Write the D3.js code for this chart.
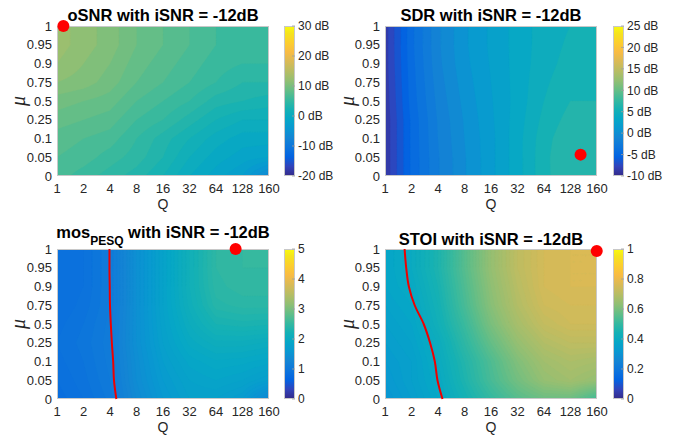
<!DOCTYPE html>
<html><head><meta charset="utf-8">
<script src="https://cdn.jsdelivr.net/npm/d3@7"></script>
<style>
body{margin:0;background:#fff}
svg{display:block}
text{font-family:"Liberation Sans",Arial,Helvetica,sans-serif;fill:#262626}
</style>
</head><body>
<svg id="c" width="682" height="435"></svg>
<script>
// ---- data ----
const qLabels = ["1","2","4","8","16","32","64","128","160"];
const muLabels = ["0","0.05","0.1","0.25","0.5","0.75","0.9","0.95","1"];

// rows: mu = 1 (top) ... mu = 0 (bottom); columns: Q = 1 ... 160
const osnrValues = [
 [12.5, 11.5, 10.5, 9, 8, 7, 6, 6, 6],
 [12.5, 11.5, 10.5, 9, 8, 7, 6, 5.5, 5.5],
 [12, 11, 10, 8.5, 7.5, 6.5, 5.5, 5, 5],
 [11, 10.5, 9.5, 8, 7, 6, 5, 4, 4],
 [9.5, 9, 8.5, 7, 6, 5, 3.5, 3, 2.5],
 [8.5, 8, 7.5, 6, 5, 3.5, 2, 1, 1],
 [7.5, 7, 6.5, 5, 3.5, 2, 0.5, -0.5, -0.5],
 [7, 6.5, 5.5, 4.5, 3, 1, -0.5, -1.5, -2],
 [6.5, 5.5, 4.5, 3.5, 2, 0, -1.5, -3, -7]
];
const sdrValues = [
 [-8.5, -4.3, -1.2, 0.8, 2.2, 3.4, 4.5, 5, 5.2],
 [-8.5, -4.3, -1.2, 0.8, 2.2, 3.4, 4.5, 5.2, 5.3],
 [-8.5, -4.4, -1.3, 0.7, 2.1, 3.4, 4.6, 5.4, 5.5],
 [-8.6, -4.5, -1.5, 0.5, 2.0, 3.4, 4.8, 5.7, 5.8],
 [-8.7, -4.6, -1.7, 0.3, 1.9, 3.4, 5, 6, 6],
 [-8.8, -4.8, -1.9, 0.1, 1.8, 3.5, 5.3, 6.4, 6.3],
 [-8.8, -4.8, -2.0, 0, 1.7, 3.6, 5.6, 6.8, 6.6],
 [-8.8, -4.8, -2.1, -0.1, 1.7, 3.6, 5.7, 7.0, 6.8],
 [-8.8, -4.8, -2.1, -0.1, 1.7, 3.6, 5.7, 6.9, 6.8]
];
const pesqValues = [
 [0.85, 0.9, 1.05, 1.45, 1.8, 2.15, 2.45, 2.5, 2.5],
 [0.85, 0.9, 1.05, 1.45, 1.8, 2.15, 2.45, 2.5, 2.5],
 [0.85, 0.9, 1.05, 1.45, 1.8, 2.15, 2.43, 2.48, 2.48],
 [0.85, 0.92, 1.05, 1.45, 1.8, 2.12, 2.38, 2.42, 2.42],
 [0.88, 0.95, 1.07, 1.45, 1.78, 2.05, 2.25, 2.28, 2.26],
 [0.9, 0.97, 1.08, 1.45, 1.75, 1.97, 2.08, 2.08, 2.04],
 [0.88, 0.95, 1.07, 1.42, 1.7, 1.87, 1.94, 1.92, 1.87],
 [0.85, 0.93, 1.05, 1.4, 1.65, 1.8, 1.85, 1.8, 1.7],
 [0.82, 0.9, 1.02, 1.35, 1.6, 1.75, 1.75, 1.65, 1.3]
];
const stoiValues = [
 [0.37, 0.40, 0.46, 0.55, 0.64, 0.71, 0.75, 0.76, 0.76],
 [0.37, 0.40, 0.46, 0.55, 0.64, 0.71, 0.75, 0.76, 0.76],
 [0.37, 0.39, 0.45, 0.54, 0.63, 0.70, 0.75, 0.76, 0.76],
 [0.36, 0.38, 0.44, 0.53, 0.62, 0.69, 0.74, 0.75, 0.75],
 [0.35, 0.37, 0.43, 0.51, 0.60, 0.67, 0.72, 0.74, 0.74],
 [0.34, 0.36, 0.41, 0.49, 0.57, 0.64, 0.69, 0.71, 0.71],
 [0.33, 0.35, 0.40, 0.47, 0.54, 0.61, 0.66, 0.68, 0.67],
 [0.32, 0.35, 0.39, 0.46, 0.53, 0.59, 0.64, 0.66, 0.64],
 [0.31, 0.34, 0.38, 0.44, 0.50, 0.55, 0.58, 0.58, 0.52]
];

// red threshold lines: Q position (in tick-index units) for mu = 0 ... 1
const pesqLineQ = [2.24, 2.15, 2.12, 2.07, 2.03, 2.0, 1.99, 1.98, 1.98];
const stoiLineQ = [2.17, 1.98, 1.88, 1.70, 1.46, 1.12, 0.9, 0.8, 0.74];

// red optimum markers: [Q index, mu index]
const osnrBest = [0.24, 8];
const sdrBest = [7.38, 1.14];
const pesqBest = [6.74, 8];
const stoiBest = [7.99, 7.89];

const osnrTicks = [-20, -10, 0, 10, 20, 30];
const sdrTicks = [-10, -5, 0, 5, 10, 15, 20, 25];
const pesqTicks = [0, 1, 2, 3, 4, 5];
const stoiTicks = [0, 0.2, 0.4, 0.6, 0.8, 1];

// parula colormap
const parulaPos = [0,4,8,12,16,20,24,28,32,36,40,44,48,52,56,60,63].map(i=>i/63);
const parulaCol = ["#352a87","#3243ba","#0363e1","#0d75dc","#1485d4","#0998d1","#06a7c6","#15b1b4","#38b99e","#65be86","#92bf73","#b7bd64","#d9ba56","#f8bb44","#fcce2e","#f5e41d","#f9fb0e"];
const parula = d3.scaleLinear().domain(parulaPos).range(parulaCol).interpolate(d3.interpolateRgb).clamp(true);

// ---- drawing ----
const svg = d3.select("#c");
const W = 212, H = 150;

const panels = [
 {id:"a", title:"oSNR with iSNR = -12dB", grid:osnrValues, dom:[-20,30], step:1, ticks:osnrTicks, fmt:d=>d+" dB", x0:57, y0:26, cbx:284, best:osnrBest, line:null, tb:21, mux:20},
 {id:"b", title:"SDR with iSNR = -12dB", grid:sdrValues, dom:[-10,25], step:1, ticks:sdrTicks, fmt:d=>d+" dB", x0:385, y0:26, cbx:613, best:sdrBest, line:null, tb:21, mux:349},
 {id:"c", title:"pesq", grid:pesqValues, dom:[0,5], step:0.05, ticks:pesqTicks, fmt:d=>d, x0:57, y0:249, cbx:284, best:pesqBest, line:pesqLineQ, tb:238, mux:20},
 {id:"d", title:"STOI with iSNR = -12dB", grid:stoiValues, dom:[0,1], step:0.01, ticks:stoiTicks, fmt:d=>d, x0:385, y0:249, cbx:613, best:stoiBest, line:stoiLineQ, tb:245, mux:349}
];

const K = 16, G = 8*K+1;
function upsample(grid){
  const out = new Float64Array(G*G);
  for(let j=0;j<G;j++){
    const r = j/K, r0 = Math.min(7, Math.floor(r)), fr = r - r0;
    for(let i=0;i<G;i++){
      const c = i/K, c0 = Math.min(7, Math.floor(c)), fc = c - c0;
      out[j*G+i] = grid[r0][c0]*(1-fr)*(1-fc) + grid[r0][c0+1]*(1-fr)*fc + grid[r0+1][c0]*fr*(1-fc) + grid[r0+1][c0+1]*fr*fc;
    }
  }
  return out;
}

const defs = svg.append("defs");
const grad = defs.append("linearGradient").attr("id","parulaGrad").attr("x1",0).attr("y1",1).attr("x2",0).attr("y2",0);
grad.selectAll("stop").data(parulaPos).join("stop")
  .attr("offset",d=>d).attr("stop-color",(d,i)=>parulaCol[i]);

panels.forEach(p=>{
  const xs = d3.scaleLinear().domain([0,8]).range([p.x0, p.x0+W]);
  const ys = d3.scaleLinear().domain([0,8]).range([p.y0+H, p.y0]);
  const cs = v => parula((v-p.dom[0])/(p.dom[1]-p.dom[0]));
  const g = svg.append("g");

  defs.append("clipPath").attr("id","clip"+p.id)
    .append("rect").attr("x",p.x0).attr("y",p.y0).attr("width",W).attr("height",H);

  // filled contours
  const vals = upsample(p.grid);
  const thresholds = d3.range(p.dom[0], p.dom[1]-p.step/2, p.step);
  const contours = d3.contours().size([G,G]).thresholds(thresholds)(vals);
  const proj = d3.geoTransform({point(x,y){
    this.stream.point(xs((x-0.5)/K), ys(8-(y-0.5)/K));
  }});
  const path = d3.geoPath(proj);
  g.append("rect").attr("x",p.x0).attr("y",p.y0).attr("width",W).attr("height",H)
    .attr("fill", cs(d3.min(vals)));
  g.append("g").attr("clip-path","url(#clip"+p.id+")")
    .selectAll("path").data(contours).join("path")
    .attr("d",path).attr("fill",d=>cs(d.value+p.step/2)).attr("stroke",d=>cs(d.value+p.step/2)).attr("stroke-width",0.3);

  // frame
  g.append("rect").attr("x",p.x0+0.5).attr("y",p.y0+0.5).attr("width",W-1).attr("height",H-1)
    .attr("fill","none").attr("stroke","#c8c8c8").attr("stroke-width",1);

  // threshold line
  if(p.line){
    const ln = d3.line().x(d=>xs(d[0])).y(d=>ys(d[1])).curve(d3.curveMonotoneY);
    g.append("path").datum(p.line.map((q,i)=>[q,i]))
      .attr("d",ln).attr("fill","none").attr("stroke","#ee0000").attr("stroke-width",2);
  }

  // x tick labels
  g.append("g").selectAll("text").data(qLabels).join("text")
    .attr("x",(d,i)=>xs(i)).attr("y",p.y0+H+17).attr("text-anchor","middle")
    .attr("font-size",13).text(d=>d);
  // y tick labels
  g.append("g").selectAll("text").data(muLabels).join("text")
    .attr("x",p.x0-5).attr("y",(d,i)=>ys(i)+4.6).attr("text-anchor","end")
    .attr("font-size",13).text(d=>d);

  // axis labels
  g.append("text").attr("x",p.x0+W/2).attr("y",p.y0+H+33).attr("text-anchor","middle")
    .attr("font-size",14).text("Q");
  g.append("text").attr("transform",`translate(${p.mux+5},${p.y0+H/2}) rotate(-90)`)
    .attr("text-anchor","middle").attr("font-size",20)
    .style("font-family","'Liberation Serif','Times New Roman',serif").style("font-style","italic")
    .text("μ");

  // title
  const t = g.append("text").attr("x",p.x0+W/2).attr("y",p.tb).attr("text-anchor","middle")
    .attr("font-size",16.5).attr("font-weight","bold").style("fill","#000");
  if(p.title==="pesq"){
    t.append("tspan").text("mos");
    t.append("tspan").attr("font-size",12).attr("dy",7).text("PESQ");
    t.append("tspan").attr("dy",-7).text(" with iSNR = -12dB");
  } else {
    t.text(p.title);
  }

  // colorbar
  const cby = d3.scaleLinear().domain(p.dom).range([p.y0+H, p.y0]);
  g.append("rect").attr("x",p.cbx).attr("y",p.y0).attr("width",11).attr("height",H)
    .attr("fill","url(#parulaGrad)");
  g.append("rect").attr("x",p.cbx+0.5).attr("y",p.y0+0.5).attr("width",10).attr("height",H-1)
    .attr("fill","none").attr("stroke","#c8c8c8");
  g.append("g").selectAll("line").data(p.ticks).join("line")
    .attr("x1",p.cbx+11).attr("x2",p.cbx+8).attr("y1",d=>cby(d)).attr("y2",d=>cby(d))
    .attr("stroke","#a0a0a0").attr("stroke-width",0.8);
  g.append("g").selectAll("text").data(p.ticks).join("text")
    .attr("x",p.cbx+14).attr("y",d=>cby(d)+4.3).attr("font-size",12).text(p.fmt);

  // best marker
  g.append("circle").attr("cx",xs(p.best[0])).attr("cy",ys(p.best[1])).attr("r",6)
    .attr("fill","#ff0000");
});
</script>
</body></html>
